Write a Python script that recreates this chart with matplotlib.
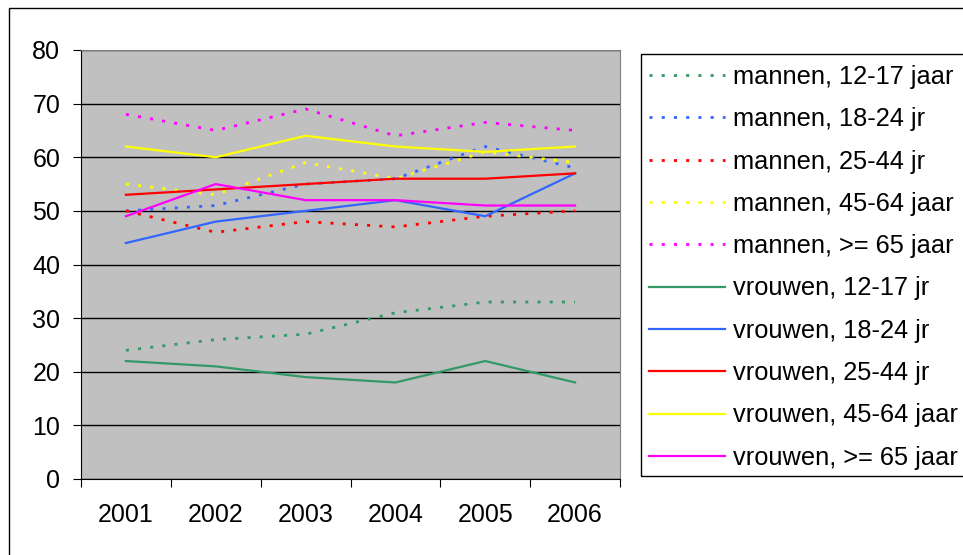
import matplotlib.pyplot as plt
from matplotlib.patches import Rectangle

plt.rcParams['font.family'] = ['Liberation Sans', 'DejaVu Sans']

years = ['2001', '2002', '2003', '2004', '2005', '2006']

m_12_17 = [24, 26, 27, 31, 33, 33]
m_18_24 = [50, 51, 55, 56, 62, 58]
m_25_44 = [50, 46, 48, 47, 49, 50]
m_45_64 = [55, 53, 59, 56, 61, 59]
m_65 = [68, 65, 69, 64, 66.5, 65]
v_12_17 = [22, 21, 19, 18, 22, 18]
v_18_24 = [44, 48, 50, 52, 49, 57]
v_25_44 = [53, 54, 55, 56, 56, 57]
v_45_64 = [62, 60, 64, 62, 61, 62]
v_65 = [49, 55, 52, 52, 51, 51]

labels = ['mannen, 12-17 jaar', 'mannen, 18-24 jr', 'mannen, 25-44 jr',
          'mannen, 45-64 jaar', 'mannen, >= 65 jaar',
          'vrouwen, 12-17 jr', 'vrouwen, 18-24 jr', 'vrouwen, 25-44 jr',
          'vrouwen, 45-64 jaar', 'vrouwen, >= 65 jaar']
series = [m_12_17, m_18_24, m_25_44, m_45_64, m_65,
          v_12_17, v_18_24, v_25_44, v_45_64, v_65]
colors = ['#339966', '#3366FF', '#FF0000', '#FFFF00', '#FF00FF'] * 2

W, H = 963, 555
fig = plt.figure(figsize=(W / 100, H / 100), dpi=100)
ax = fig.add_axes([81 / W, (H - 479) / H, (620 - 81) / W, (479 - 50) / H])
ax.set_facecolor('#C0C0C0')

x = list(range(len(years)))
for i, (vals, lab, c) in enumerate(zip(series, labels, colors)):
    if i < 5:
        ax.plot(x, vals, color=c, lw=2.0, dashes=(1.1, 3.3), label=lab)
    else:
        ax.plot(x, vals, color=c, lw=1.6, label=lab)

ax.set_xlim(-0.5, 5.5)
ax.set_ylim(0, 80)
ax.set_yticks(range(0, 81, 10))
ax.yaxis.grid(True, color='black', lw=1)
ax.set_axisbelow(True)

ax.set_xticks([i - 0.5 for i in range(7)])
ax.set_xticklabels([])
ax.set_xticks(x, minor=True)
ax.set_xticklabels(years, minor=True)
ax.tick_params(axis='x', which='major', length=6, direction='out', color='black')
ax.tick_params(axis='x', which='minor', length=0, pad=17, labelsize=18)
ax.tick_params(axis='y', length=6, direction='out', pad=9, labelsize=18)

for s in ['top', 'right']:
    ax.spines[s].set_color('#808080')
for s in ['left', 'bottom']:
    ax.spines[s].set_color('black')

leg = fig.legend(loc='upper left', bbox_to_anchor=(649 / W, 1 - 65 / H),
                 frameon=False, fontsize=18.3, handlelength=3.0,
                 handletextpad=0.3, labelspacing=0.72, borderpad=0,
                 borderaxespad=0)

# legend box (runs past the right edge like the original)
fig.add_artist(Rectangle((641 / W, (H - 476) / H), 0.5, (476 - 54) / H,
                         transform=fig.transFigure, fill=False, lw=1,
                         edgecolor='black'))
# outer chart border
fig.add_artist(Rectangle((9 / W, -0.1), 1.2, (H - 8) / H + 0.1,
                         transform=fig.transFigure, fill=False, lw=1,
                         edgecolor='black'))

fig.savefig('out.png', dpi=100)
